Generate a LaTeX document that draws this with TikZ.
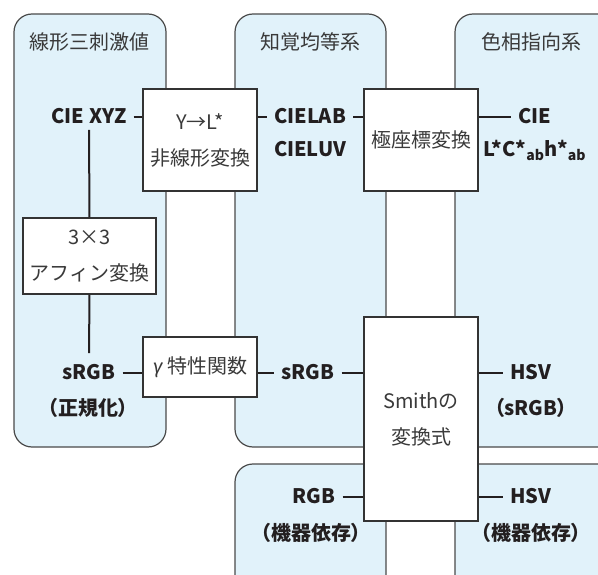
\documentclass[tikz,border=0pt]{standalone}
\usepackage{fontspec}
\setmainfont{Noto Sans CJK JP}
\newfontfamily\fira{Fira Sans}
\definecolor{panelfill}{HTML}{E1F2FA}
\definecolor{panelborder}{HTML}{4A4A4A}
\definecolor{boxborder}{HTML}{333333}
\definecolor{textc}{HTML}{231F20}
\definecolor{titlec}{HTML}{3A3A3A}
\definecolor{linec}{HTML}{231F20}
\begin{document}
\begin{tikzpicture}[x=1pt,y=-1pt,
  panel/.style={draw=panelborder, fill=panelfill, line width=1.2pt, rounded corners=18pt},
  box/.style={draw=boxborder, fill=white, line width=1.5pt, align=center, inner sep=0pt,
    font=\fontsize{20}{36}\selectfont, text=titlec},
  title/.style={font=\fontsize{20}{24}\selectfont, text=titlec, inner sep=0pt},
  lab/.style={font=\bfseries\fontsize{20}{24}\selectfont, text=textc, text height=13.2pt,
    text depth=0pt, inner xsep=7pt, inner ysep=6pt},
  sub/.style={font=\bfseries\fontsize{20}{24}\selectfont\addfontfeatures{RawFeature=+palt},
    text=textc, inner sep=0pt},
  conn/.style={draw=linec, line width=2pt}]
\useasboundingbox (0,0) rectangle (598,575);
\begin{scope}
\clip (0,0) rectangle (598,575);
\draw[panel] (14,14) rectangle (166,447);
\draw[panel] (235,14) rectangle (386,447);
\draw[panel] (455,14) rectangle (620,447);
\draw[panel] (235,464) rectangle (386,600);
\draw[panel] (455,464) rectangle (620,600);
\end{scope}
% titles
\node[title] (t1) at (90,42) {線形三刺激値};
\node[title] (t2) at (310,42) {知覚均等系};
\node[title] (t3) at (531,42) {色相指向系};
% boxes
\node[box, minimum width=114pt, minimum height=102pt] (ybox) at (200,140) {Y→L*\\非線形変換};
\node[box, minimum width=114pt, minimum height=102pt] (pbox) at (421,140) {極座標変換};
\node[box, minimum width=133pt, minimum height=76pt] (abox) at (89.5,256) {3×3\\アフィン変換};
\node[box, minimum width=114pt, minimum height=60pt] (gbox) at (200,367) {{\fira\itshape γ} 特性関数};
\node[box, minimum width=114pt, minimum height=204pt] (sbox) at (421,419) {Smithの\\変換式};
% labels
\node[lab] (xyz) at (89,117) {CIE XYZ};
\node[lab] (lab) at (310,117) {CIELAB};
\node[lab] (luv) at (310,150) {CIELUV};
\node[lab] (cie) at (535,117) {CIE};
\node[lab] (lch) at (535,150) {L*C*\textsubscript{ab}h*\textsubscript{ab}};
\node[lab] (srgbL) at (89,373) {sRGB};
\node[sub] (norm) at (88,408) {（正規化）};
\node[lab] (srgbM) at (308,373) {sRGB};
\node[lab] (hsv) at (531,373) {HSV};
\node[sub] (hsvs) at (531,408) {（sRGB）};
\node[lab] (rgb) at (314,497) {RGB};
\node[sub] (dep1) at (311,533) {（機器依存）};
\node[lab] (hsv2) at (531,497) {HSV};
\node[sub] (dep2) at (531,533) {（機器依存）};
% connectors
\draw[conn] (xyz.east) -- (xyz.east -| ybox.west);
\draw[conn] (ybox.east |- lab.west) -- (lab.west);
\draw[conn] (lab.east) -- (lab.east -| pbox.west);
\draw[conn] (pbox.east |- cie.west) -- (cie.west);
\draw[conn] (xyz.south) -- (abox.north);
\draw[conn] (abox.south) -- ([yshift=7pt]srgbL.north);
\draw[conn] (srgbL.east) -- (srgbL.east -| gbox.west);
\draw[conn] (gbox.east |- srgbM.west) -- (srgbM.west);
\draw[conn] (srgbM.east) -- (srgbM.east -| sbox.west);
\draw[conn] (sbox.east |- hsv.west) -- (hsv.west);
\draw[conn] (rgb.east) -- (rgb.east -| sbox.west);
\draw[conn] (sbox.east |- hsv2.west) -- (hsv2.west);
\end{tikzpicture}
\end{document}
